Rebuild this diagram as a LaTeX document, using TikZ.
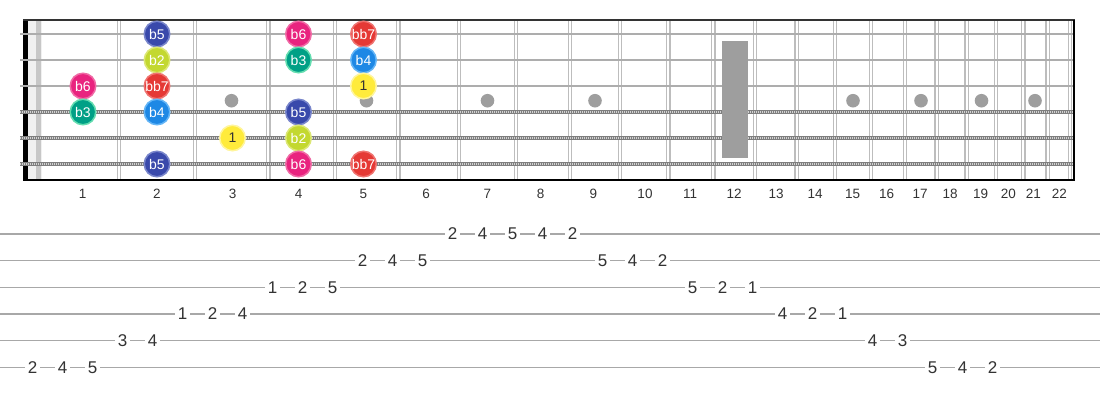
\documentclass[tikz,border=0pt]{standalone}
\usepackage{fontspec}
\setmainfont{Liberation Sans}
\usepackage{xcolor}
\usetikzlibrary{positioning}

\definecolor{fretgray}{HTML}{BDBDBD}
\definecolor{stringgray}{HTML}{ADADAD}
\definecolor{woundgray}{HTML}{7E7E7E}
\definecolor{windgray}{HTML}{D2D2D2}
\definecolor{dotgray}{HTML}{9E9E9E}
\definecolor{tabgray}{HTML}{A8A8A8}
\definecolor{textdark}{HTML}{333333}
% degree colours (fill / rim)
\definecolor{Bfive}{HTML}{3949AB}   \definecolor{BfiveRim}{HTML}{7986CB}
\definecolor{Btwo}{HTML}{C3D830}    \definecolor{BtwoRim}{HTML}{DCE775}
\definecolor{BBseven}{HTML}{E53935} \definecolor{BBsevenRim}{HTML}{EF7370}
\definecolor{Bsix}{HTML}{E9237F}    \definecolor{BsixRim}{HTML}{F06AA5}
\definecolor{Bthree}{HTML}{00A086}  \definecolor{BthreeRim}{HTML}{64DDB0}
\definecolor{Bfour}{HTML}{1E88E5}   \definecolor{BfourRim}{HTML}{64B5F6}
\definecolor{Root}{HTML}{FFEB3B}    \definecolor{RootRim}{HTML}{FFF59D}

\begin{document}
\begin{tikzpicture}[
    x=1pt, y=-1pt, % one unit = one pixel of the picture
    fretline/.style={draw=fretgray, line width=1.4pt},
    plainstring/.style={draw=stringgray, line width=2.4pt},
    woundstring/.style={draw=woundgray, line width=3.4pt},
    windings/.style={draw=windgray, line width=1.6pt, dash pattern=on 1pt off 1pt},
    fretnum/.style={font=\fontsize{13.5}{15}\selectfont, text=textdark},
    degree/.style={circle, fill=#1, draw=#1Rim, line width=1.5pt, minimum size=25.5pt, inner sep=0pt, font=\fontsize{14}{16}\selectfont, text=white},
    tabline/.style={draw=tabgray, line width=1.4pt},
    tabnum/.style={fill=white, inner xsep=2.5pt, inner ysep=1pt, font=\fontsize{17}{19}\selectfont, text=textdark}
]
\useasboundingbox (0,0) rectangle (1100,400);

% --- Fretboard ---
% nut
\fill[black!6] (28,20) rectangle (42,180);
\fill[black!22] (36,20) rectangle (41,180);
\fill[black] (23,19) rectangle (28,181);

% frets (double lines)
\foreach \x in {119, 195, 268.3, 335, 398.3, 459, 516, 570, 620, 668.3, 713.3, 755, 796.7, 835, 871, 905, 936.7, 966.7, 996, 1023.3, 1047.7, 1070}
    {\draw[fretline] ({\x-1.7},20) -- ({\x-1.7},180); \draw[fretline] ({\x+1.7},20) -- ({\x+1.7},180);}

% inlays
\foreach \x in {231.5, 366.5, 487.5, 595, 853, 921, 981.5, 1035}
    \fill[dotgray] (\x,100.7) circle (6.8pt);

% strings
\foreach \s in {1,2,3} \draw[plainstring] (20,{34+26*(\s-1)}) -- (1074,{34+26*(\s-1)});
\foreach \s in {4,5,6} {\draw[woundstring] (20,{34+26*(\s-1)}) -- (1074,{34+26*(\s-1)}); \draw[windings] (20,{34+26*(\s-1)}) -- (1074,{34+26*(\s-1)});}

% 12th fret marker
\fill[dotgray] (721.7,40.7) rectangle (748.3,158.3);

% borders
\draw[line width=2pt, black!80] (23,20) -- (1075,20);
\draw[line width=2pt, black] (23,180) -- (1075,180);
\draw[line width=2pt, black] (1074,20) -- (1074,180);

% fret numbers
\foreach \f/\x in {1/82.7, 2/157, 3/232.7, 4/298.7, 5/363.3, 6/426, 7/487.3, 8/540.7, 9/593.3, 10/645, 11/690, 12/734, 13/776, 14/815, 15/852.7, 16/886.7, 17/920, 18/950, 19/980.7, 20/1008.3, 21/1033.3, 22/1059.3}
    \node[fretnum] (fret\f) at (\x,194) {\f};

% --- Scale degrees ---
% string 1
\foreach \x/\d/\c in {157/b5/Bfive, 298.5/b6/Bsix, 363.5/bb7/BBseven}
    \node[degree=\c] (s1-\d) at (\x,34) {\d};
% string 2
\foreach \x/\d/\c in {157/b2/Btwo, 298.5/b3/Bthree, 363.5/b4/Bfour}
    \node[degree=\c] (s2-\d) at (\x,60) {\d};
% string 3
\foreach \x/\d/\c in {83/b6/Bsix, 157/bb7/BBseven}
    \node[degree=\c] (s3-\d) at (\x,86) {\d};
\node[degree=Root, text=textdark] (s3-1) at (363.5,86) {1};
% string 4
\foreach \x/\d/\c in {83/b3/Bthree, 157/b4/Bfour, 298.5/b5/Bfive}
    \node[degree=\c] (s4-\d) at (\x,112) {\d};
% string 5
\node[degree=Root, text=textdark] (s5-1) at (232.5,138) {1};
\node[degree=Btwo] (s5-b2) at (298.5,138) {b2};
% string 6
\foreach \x/\d/\c in {157/b5/Bfive, 298.5/b6/Bsix, 363.5/bb7/BBseven}
    \node[degree=\c] (s6-\d) at (\x,164) {\d};

% --- Tablature ---
\foreach \s in {1,...,6} \draw[tabline] (0,{234+26.67*(\s-1)}) -- (1100,{234+26.67*(\s-1)});

\foreach \k/\s/\n in {0/6/2, 1/6/4, 2/6/5, 3/5/3, 4/5/4, 5/4/1, 6/4/2, 7/4/4, 8/3/1, 9/3/2, 10/3/5, 11/2/2, 12/2/4, 13/2/5, 14/1/2, 15/1/4, 16/1/5, 17/1/4, 18/1/2, 19/2/5, 20/2/4, 21/2/2, 22/3/5, 23/3/2, 24/3/1, 25/4/4, 26/4/2, 27/4/1, 28/5/4, 29/5/3, 30/6/5, 31/6/4, 32/6/2}
    \node[tabnum] (tab\k) at ({32.7+30*\k},{234+26.67*(\s-1)}) {\n};

\end{tikzpicture}
\end{document}
